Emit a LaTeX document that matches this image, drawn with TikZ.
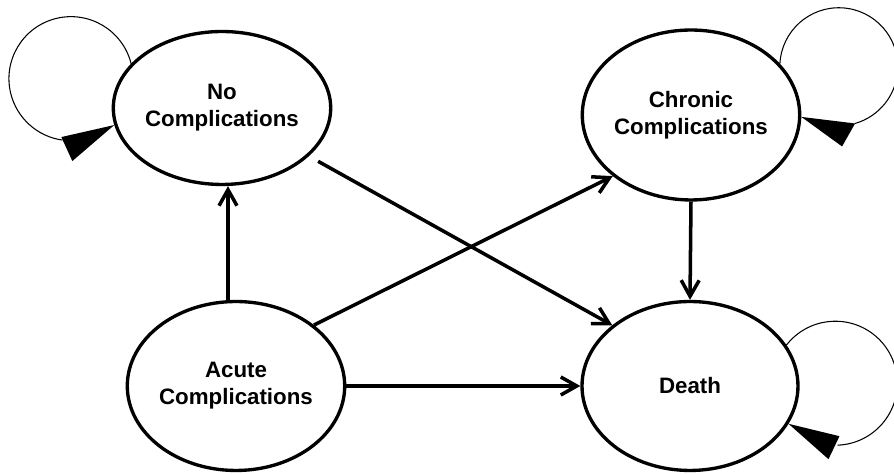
\documentclass[tikz,border=0pt]{standalone}
\usepackage{fontspec}
\setmainfont{Liberation Sans}
\usetikzlibrary{shapes.geometric,arrows.meta}
\begin{document}
\begin{tikzpicture}[x=0.02cm,y=-0.02cm,
  stnode/.style={draw,ellipse,line width=1.9pt,inner sep=0pt,minimum width=4.32cm,minimum height=3.38cm,align=center,font=\fontsize{12.7}{15.3}\selectfont\bfseries},
  arr/.style={line width=2pt,-{Straight Barb[length=3.2mm,width=3.6mm]}},
  loopline/.style={line width=0.6pt},
  looptip/.style={fill=black}]
	\useasboundingbox (0,0) rectangle (894,475);
	\node[stnode,minimum height=3.06cm] (NC) at (222,108) {No\\Complications};
	\node[stnode,minimum height=3.4cm] (CC) at (691,115) {Chronic\\Complications};
	\node[stnode] (AC) at (236,386) {Acute\\Complications};
	\node[stnode] (D) at (690,386) {Death};
	\coordinate (vx) at (228,0);
	
	% transitions
	\draw[arr] (AC.north -| vx) -- (NC.south -| vx);
	\draw[arr] (AC.east) -- (D.west);
	\draw[arr] (CC.south) -- (D.north);
	\draw[arr,shorten <=6pt] (NC.-29) -- (D.142);
	\draw[arr] (AC.38) -- (CC.218);
	
	% self loops
	\draw[loopline] (NC.154) arc[start angle=-14,end angle=-262,radius=62] coordinate (NCe);
	\fill[looptip] ([shift={(-1,-3)}]NCe) -- (NC.189) -- ([shift={(10,21)}]NCe) -- cycle;
	\draw[loopline] (CC.30) arc[start angle=183,end angle=434,radius=59] coordinate (CCe);
	\fill[looptip] (CCe) -- (CC.-1) -- ([shift={(-13,23)}]CCe) -- cycle;
	\draw[loopline] (D.23) arc[start angle=218,end angle=448,radius=62] coordinate (De);
	\fill[looptip] ([shift={(2,-9)}]De) -- (D.-21) -- ([shift={(-9,14)}]De) -- cycle;
\end{tikzpicture}
\end{document}
